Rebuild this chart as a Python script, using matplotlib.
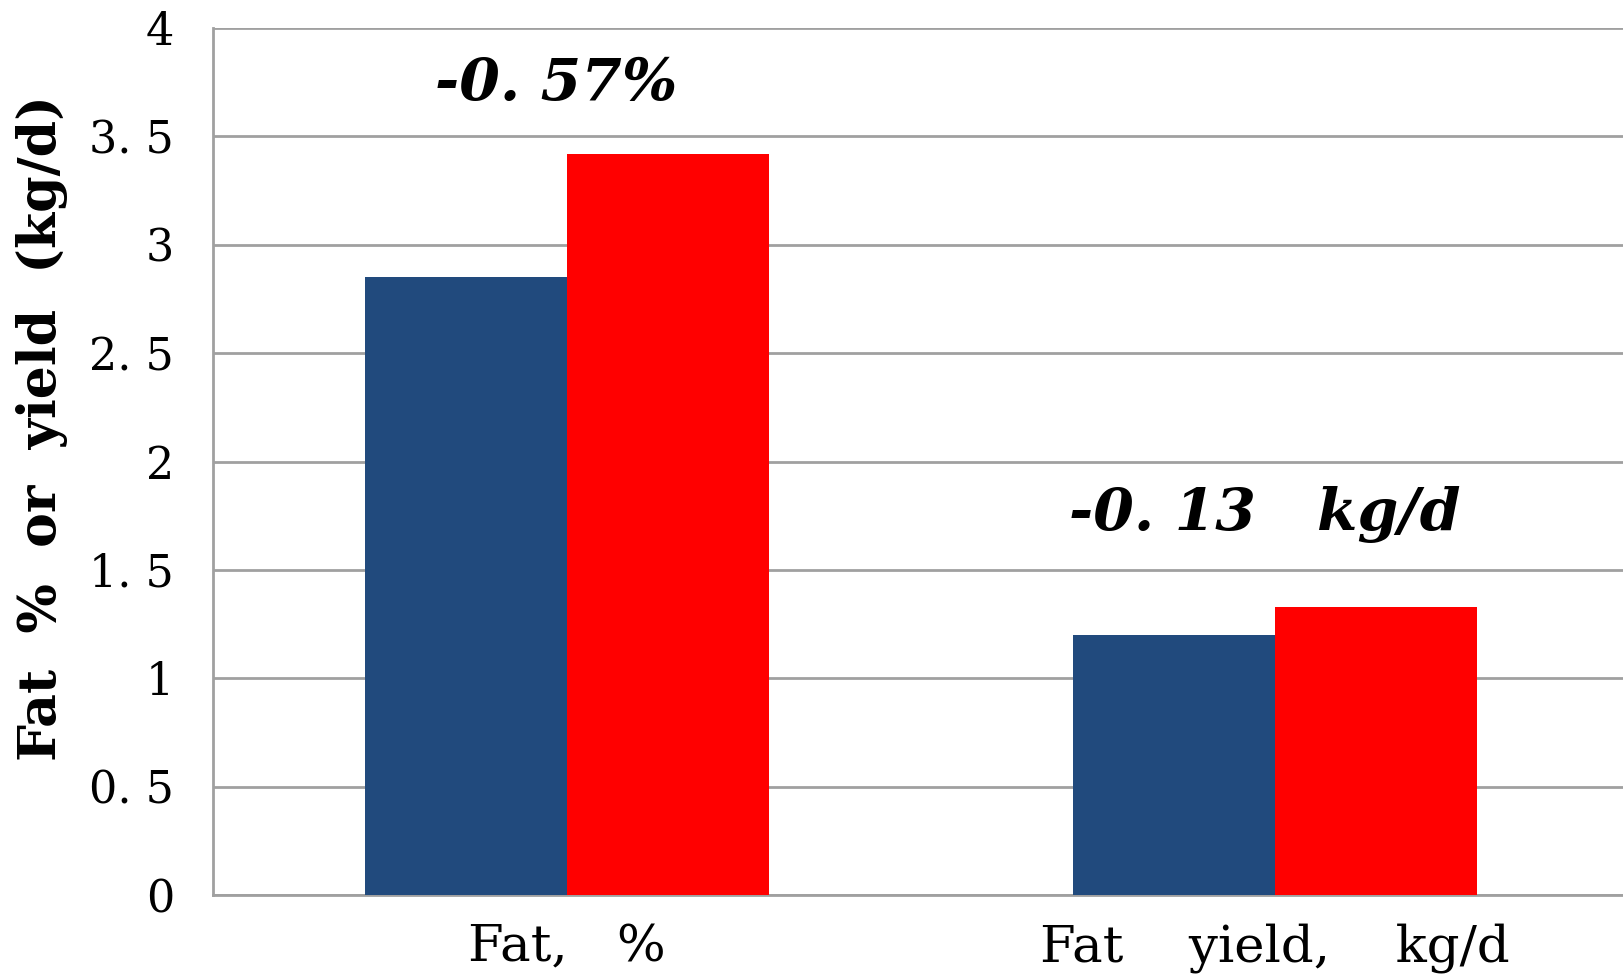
import matplotlib
matplotlib.use("Agg")
import matplotlib.pyplot as plt
import numpy as np

# Fat content before / after, per measure
categories = ["Fat,   %", "Fat    yield,    kg/d"]
series_a = [2.85, 1.20]   # blue
series_b = [3.42, 1.33]   # red
diff_labels = ["-0. 57%", "-0. 13   kg/d"]
label_y = [3.668, 1.684]
y_ticks = [0, 0.5, 1, 1.5, 2, 2.5, 3, 3.5, 4]
y_tick_labels = ["0", "0. 5", "1", "1. 5", "2", "2. 5", "3", "3. 5", "4"]

W, H = 1624, 977
fig = plt.figure(figsize=(W / 100, H / 100), dpi=100)
ax_left, ax_right, ax_bottom, ax_top = 213, 1629, 895, 28
ax = fig.add_axes([ax_left / W, 1 - ax_bottom / H,
                   (ax_right - ax_left) / W, (ax_bottom - ax_top) / H])

x = np.arange(len(categories))
bw = 0.285
ax.bar(x - bw / 2, series_a, width=bw, color="#214A7D", zorder=3)
ax.bar(x + bw / 2, series_b, width=bw, color="#FF0000", zorder=3)

ax.set_xlim(-0.5, 1.5)
ax.set_ylim(0, 4)
ax.set_yticks(y_ticks)
ax.set_yticklabels(y_tick_labels, fontfamily="DejaVu Serif", fontsize=32)
ax.set_xticks(x)
ax.set_xticklabels(categories, fontfamily="DejaVu Serif", fontsize=37)
ax.tick_params(axis="both", length=0)
ax.tick_params(axis="y", pad=28)
ax.tick_params(axis="x", pad=20)

ax.grid(axis="y", color="#A0A0A0", linewidth=2, zorder=0)
ax.set_axisbelow(True)
for side in ("top", "right"):
    ax.spines[side].set_visible(False)
for side in ("left", "bottom"):
    ax.spines[side].set_color("#A0A0A0")
    ax.spines[side].set_linewidth(2)

ax.set_ylabel("Fat  %  or  yield  (kg/d)", fontfamily="DejaVu Serif",
              fontweight="bold", fontsize=37.5, va="center", ha="center")
ax.yaxis.set_label_coords((42 - ax_left) / (ax_right - ax_left),
                          (ax_bottom - 428) / (ax_bottom - ax_top))

for xi, lab, ly in zip(x, diff_labels, label_y):
    ax.text(xi - 0.015, ly, lab, ha="center", va="baseline",
            fontfamily="DejaVu Serif", fontstyle="italic",
            fontweight="bold", fontsize=42)

fig.savefig("out.png", dpi=100)
